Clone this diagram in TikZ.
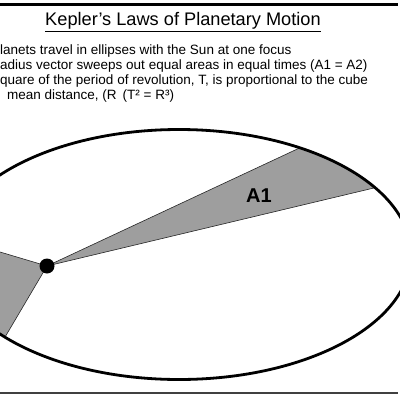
\documentclass[tikz,border=0pt]{standalone}
\usepackage{fontspec}
\setmainfont{Liberation Sans}
\usetikzlibrary{calc}
\definecolor{wedgegray}{RGB}{158,158,158}

\begin{document}
\begin{tikzpicture}[x=1pt, y=-1pt,
    rule/.style={line width=2.4pt, draw=black},
    thinrule/.style={line width=1.4pt, draw=black!75},
    orbit/.style={draw=black, line width=2.8pt},
    wedge/.style={fill=wedgegray, draw=black!85, line width=0.6pt},
    sundot/.style={circle, fill=black, inner sep=0pt, minimum size=15pt},
    title/.style={inner sep=0pt, font=\fontsize{18.2}{21}\selectfont},
    lawtext/.style={anchor=base west, inner sep=0pt, font=\fontsize{13.5}{15}\selectfont},
    arealabel/.style={inner sep=0pt, font=\fontsize{20}{22}\selectfont\bfseries}
  ]
    \useasboundingbox (0,0) rectangle (400,400);
    \clip (0,0) rectangle (400,400);

    % Frame rules
    \draw[rule] (0,4.5) -- (398,4.5);
    \draw[thinrule] (0,393) -- (398,393);

    % Title
    \node[title] (title) at (183,22) {\underline{Kepler's Laws of Planetary Motion}};

    % Laws
    \node[lawtext] (law1) at (0,54) {lanets travel in ellipses with the Sun at one focus};
    \node[lawtext] (law2) at (0,69) {adius vector sweeps out equal areas in equal times (A1 = A2)};
    \node[lawtext] (law3) at (0,84) {quare of the period of revolution, T, is proportional to the cube};
    \node[lawtext] (law4) at (7,99) {mean distance, (R\hspace{6pt}(T² = R³)};

    % Orbit and Sun
    \coordinate (orbitc) at (179,254.5);
    \coordinate (sun) at (47,266);

    % Swept areas
    \filldraw[wedge] (sun) -- ($(orbitc)+(-32.3:232 and 125)$)
      arc[start angle=-32.3, end angle=-58.6, x radius=232, y radius=125] -- cycle;
    \filldraw[wedge] (sun) -- ($(orbitc)+(138.6:232 and 125)$)
      arc[start angle=138.6, end angle=188.1, x radius=232, y radius=125] -- cycle;

    \draw[orbit] (orbitc) ellipse[x radius=232, y radius=125];
    \node[sundot] (sunnode) at (sun) {};

    % Area label
    \node[arealabel] (a1) at (259,196) {A1};
  \end{tikzpicture}
\end{document}
